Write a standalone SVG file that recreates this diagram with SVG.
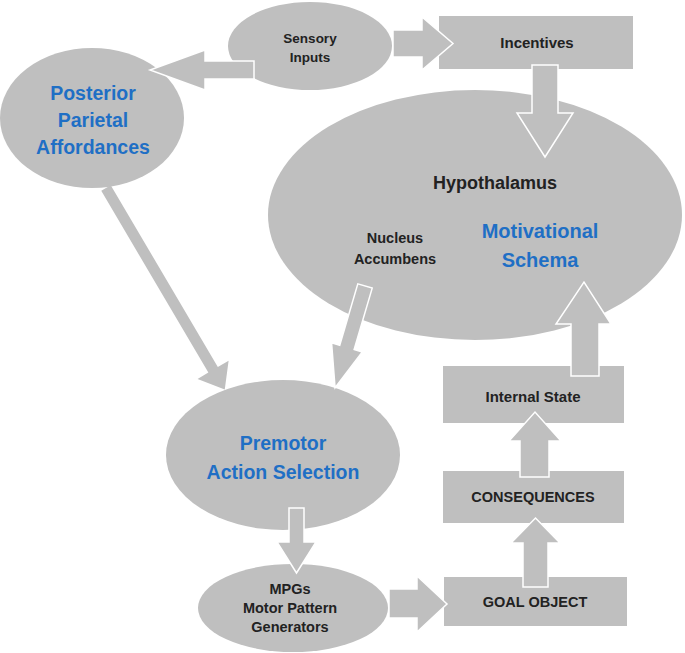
<svg xmlns="http://www.w3.org/2000/svg" width="685" height="653" viewBox="0 0 685 653">
<style>
.n{fill:#bfbfbf}
.a{fill:#bfbfbf;stroke:#ffffff;stroke-width:1.5;stroke-linejoin:miter}
.t{font-family:"Liberation Sans",Arial,sans-serif;font-weight:bold;fill:#222222;text-anchor:middle}
.b{font-family:"Liberation Sans",Arial,sans-serif;font-weight:bold;fill:#1f6fc5;text-anchor:middle}
</style>
<rect width="685" height="653" fill="#ffffff"/>
<g id="hypothalamus">
<ellipse class="n" cx="475" cy="215" rx="207" ry="125"/>
<text class="t" x="495" y="189" font-size="18">Hypothalamus</text>
<text class="t" x="395" y="243" font-size="14.5">Nucleus</text>
<text class="t" x="395" y="264" font-size="14.5">Accumbens</text>
<text class="b" x="540" y="238" font-size="20">Motivational</text>
<text class="b" x="540" y="267" font-size="20">Schema</text>
</g>
<g id="sensory">
<ellipse class="n" cx="310" cy="46" rx="82" ry="44"/>
<text class="t" x="310" y="43" font-size="13.5">Sensory</text>
<text class="t" x="310" y="62" font-size="13.5">Inputs</text>
</g>
<g id="posterior">
<ellipse class="n" cx="92" cy="118" rx="92" ry="70"/>
<text class="b" x="93" y="100" font-size="19.5">Posterior</text>
<text class="b" x="93" y="127" font-size="19.5">Parietal</text>
<text class="b" x="93" y="154" font-size="19.5">Affordances</text>
</g>
<g id="incentives">
<rect class="n" x="439" y="16" width="194" height="53"/>
<text class="t" x="537" y="48" font-size="15">Incentives</text>
</g>
<g id="premotor">
<ellipse class="n" cx="283" cy="455" rx="117" ry="75"/>
<text class="b" x="283" y="450" font-size="19.5">Premotor</text>
<text class="b" x="283" y="479" font-size="19.5">Action Selection</text>
</g>
<g id="mpgs">
<ellipse class="n" cx="293" cy="608" rx="95" ry="44"/>
<text class="t" x="290" y="594" font-size="14.5">MPGs</text>
<text class="t" x="290" y="613" font-size="14.5">Motor Pattern</text>
<text class="t" x="290" y="632" font-size="14.5">Generators</text>
</g>
<g id="internal-state">
<rect class="n" x="443" y="366" width="181" height="57"/>
<text class="t" x="533" y="402" font-size="15">Internal State</text>
</g>
<g id="consequences">
<rect class="n" x="443" y="471" width="181" height="52"/>
<text class="t" x="533" y="502" font-size="14.5">CONSEQUENCES</text>
</g>
<g id="goal-object">
<rect class="n" x="444" y="577" width="183" height="49"/>
<text class="t" x="535" y="607" font-size="14.5">GOAL OBJECT</text>
</g>
<g id="connectors">
<polygon class="a" points="254,61 205,61 205,50 150,70 205,90 205,79 254,79"/>
<polygon class="a" points="393,30 422,30 422,17 453,43.5 422,70 422,57 393,57"/>
<polygon class="a" points="532,65 558,65 558,113 573,113 545,157 517,113 532,113"/>
<g transform="translate(365,286) rotate(106.4)">
<polygon class="a" points="0,-7.5 64,-7.5 64,-16 106,0 64,16 64,7.5 0,7.5"/>
</g>
<g transform="translate(106,188) rotate(59.5)">
<polygon class="n" points="0,-5.5 211,-5.5 211,-18 234,0 211,18 211,5.5 0,5.5"/>
</g>
<polygon class="a" points="289,508 304,508 304,542 316,542 296.5,573 277,542 289,542"/>
<polygon class="a" points="389,589 417,589 417,576 447,604 417,632 417,618 389,618"/>
<polygon class="a" points="523,587 523,543 511,543 535.5,518 560,543 548,543 548,587"/>
<polygon class="a" points="520,477 520,441 509,441 535,412 561,441 549,441 549,477"/>
<polygon class="a" points="571,376 571,324 556,324 584,282 611,324 599,324 599,376"/>
</g>
</svg>
